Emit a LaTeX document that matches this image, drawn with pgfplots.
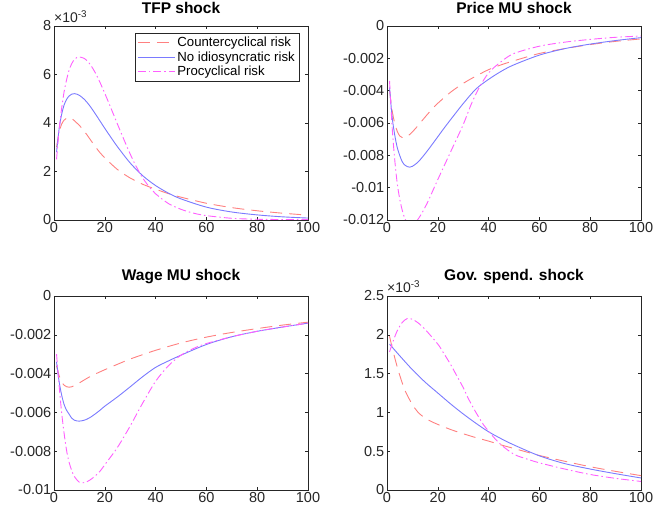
\documentclass[border=0pt]{standalone}
\usepackage{fontspec}
\setmainfont{Liberation Sans}
\usepackage{pgfplots}
\pgfplotsset{compat=1.18}

\definecolor{cred}{RGB}{255,128,128}
\definecolor{cblue}{RGB}{122,122,255}
\definecolor{cmag}{RGB}{255,95,255}
\definecolor{axgray}{RGB}{38,38,38}

\pgfplotsset{
  irf/.style={
    scale only axis, width=254pt, height=194pt, anchor=south west,
    xmin=0, xmax=100, xtick={0,20,...,100},
    tick align=inside, major tick length=3pt,
    axis line style={axgray, line width=0.5pt},
    every tick/.style={axgray, line width=0.5pt},
    ticklabel style={font=\fontsize{14.5}{16}\selectfont, text=axgray},
    xticklabel style={inner sep=2pt},
    yticklabel style={inner sep=2.5pt},
    /pgf/number format/assume math mode=true,
    scaled y ticks=false, scaled x ticks=false,
    title style={font=\fontsize{15.5}{17}\selectfont\bfseries, at={(0.5,1)}, anchor=south, inner sep=0pt, yshift=6pt},
    clip mode=individual,
    legend cell align=left,
  },
  cr/.style={cred, line width=0.9pt, dash pattern=on 12pt off 7pt, smooth},
  cb/.style={cblue, line width=0.9pt, smooth},
  cm/.style={cmag, line width=0.9pt, dash pattern=on 8pt off 3pt on 1.5pt off 3pt, smooth},
}

\begin{document}
\begin{tikzpicture}
% ---------------- TFP shock ----------------
\begin{axis}[irf, at={(54pt,290pt)}, title={TFP shock},
  ymin=0, ymax=8, ytick={0,2,4,6,8},
  legend style={at={(1,1)}, anchor=north east, xshift=-9pt, yshift=-7pt,
    font=\fontsize{13.2}{15}\selectfont, draw=axgray, line width=0.5pt,
    inner sep=2pt, row sep=-0.5pt},
  legend image code/.code={\draw[#1] (0pt,0pt) -- (37pt,0pt);},
]
\addplot[cr] coordinates {(1,3.0) (2,3.6) (3,3.95) (4,4.12) (5,4.2) (6,4.22) (7,4.18) (8,4.1) (9,4.0) (10,3.9) (12,3.65) (14,3.36) (16,3.06) (18,2.79) (20,2.56) (22,2.36) (25,2.08) (28,1.86) (30,1.73) (35,1.47) (40,1.27) (45,1.09) (50,0.94) (60,0.69) (70,0.51) (80,0.38) (90,0.28) (100,0.2)};
\addlegendentry{Countercyclical risk}
\addplot[cb] coordinates {(1,2.8) (2,3.75) (3,4.35) (4,4.75) (5,4.98) (6,5.12) (7,5.19) (8,5.21) (9,5.19) (10,5.14) (12,4.97) (14,4.72) (16,4.42) (18,4.1) (20,3.78) (22,3.47) (25,3.02) (30,2.35) (35,1.82) (40,1.42) (45,1.11) (50,0.87) (60,0.53) (70,0.33) (80,0.21) (90,0.13) (100,0.08)};
\addlegendentry{No idiosyncratic risk}
\addplot[cm] coordinates {(1,2.5) (2,3.7) (3,4.6) (4,5.3) (5,5.8) (6,6.2) (7,6.45) (8,6.62) (9,6.7) (10,6.72) (12,6.66) (14,6.45) (16,6.12) (18,5.7) (20,5.22) (22,4.72) (25,3.95) (28,3.2) (30,2.72) (32,2.28) (35,1.72) (38,1.3) (40,1.08) (45,0.68) (50,0.44) (55,0.28) (60,0.18) (70,0.07) (80,0.03) (90,0.02) (100,0.015)};
\addlegendentry{Procyclical risk}
\node[anchor=south west, inner sep=0pt, yshift=3pt, font=\fontsize{14}{15}\selectfont, text=axgray] at (rel axis cs:0,1) {×10\textsuperscript{-3}};
\end{axis}

% ---------------- Price MU shock ----------------
\begin{axis}[irf, at={(387pt,290pt)}, title={Price MU shock},
  ymin=-0.012, ymax=0, ytick={-0.012,-0.01,-0.008,-0.006,-0.004,-0.002,0},
  yticklabel style={/pgf/number format/fixed, /pgf/number format/precision=3},
]
\addplot[cr] coordinates {(1,-0.0040) (2,-0.0052) (3,-0.0060) (4,-0.0065) (5,-0.0068) (6,-0.0069) (7,-0.0069) (8,-0.00683) (9,-0.0067) (10,-0.00655) (12,-0.0062) (14,-0.00582) (16,-0.00545) (18,-0.0051) (20,-0.00478) (25,-0.0041) (30,-0.00355) (35,-0.0031) (40,-0.0027) (45,-0.0024) (50,-0.00215) (60,-0.0017) (70,-0.0014) (80,-0.00115) (90,-0.00095) (100,-0.0008)};
\addplot[cb] coordinates {(1,-0.0038) (2,-0.0056) (3,-0.0067) (4,-0.0075) (5,-0.0080) (6,-0.0084) (7,-0.0086) (8,-0.0087) (9,-0.00873) (10,-0.00868) (12,-0.00845) (14,-0.0081) (16,-0.0077) (18,-0.00728) (20,-0.00685) (22,-0.00642) (25,-0.0058) (30,-0.0048) (35,-0.0039) (40,-0.0033) (45,-0.0028) (50,-0.0024) (60,-0.0018) (70,-0.0014) (80,-0.00112) (90,-0.0009) (100,-0.00072)};
\addplot[cm] coordinates {(1,-0.0034) (2,-0.0062) (3,-0.0082) (4,-0.0097) (5,-0.0107) (6,-0.0114) (7,-0.0119) (8,-0.0122) (9,-0.0123) (10,-0.0123) (12,-0.0120) (14,-0.0115) (16,-0.0109) (18,-0.0102) (20,-0.0095) (25,-0.0078) (30,-0.0061) (33,-0.0049) (36,-0.0039) (40,-0.0029) (45,-0.0022) (50,-0.0017) (60,-0.00125) (70,-0.001) (80,-0.00083) (90,-0.0007) (100,-0.00062)};
\end{axis}

% ---------------- Wage MU shock ----------------
\begin{axis}[irf, at={(54pt,20pt)}, title={Wage MU shock},
  ymin=-0.01, ymax=0, ytick={-0.01,-0.008,-0.006,-0.004,-0.002,0},
  yticklabel style={/pgf/number format/fixed, /pgf/number format/precision=3},
]
\addplot[cr] coordinates {(1,-0.0036) (2,-0.0041) (3,-0.00442) (4,-0.0046) (5,-0.00468) (6,-0.0047) (7,-0.00468) (8,-0.00462) (10,-0.00448) (12,-0.00432) (15,-0.0041) (20,-0.0038) (25,-0.00352) (30,-0.00325) (35,-0.00302) (40,-0.0028) (50,-0.00242) (60,-0.00212) (70,-0.00188) (80,-0.00168) (90,-0.0015) (100,-0.00135)};
\addplot[cb] coordinates {(1,-0.0034) (2,-0.0044) (3,-0.0051) (4,-0.0056) (5,-0.0059) (6,-0.0061) (7,-0.0063) (8,-0.0064) (9,-0.00644) (10,-0.00645) (12,-0.0064) (14,-0.00628) (16,-0.0061) (18,-0.0059) (20,-0.00568) (25,-0.0052) (30,-0.00468) (35,-0.00415) (40,-0.00368) (45,-0.00335) (50,-0.00305) (60,-0.0025) (70,-0.0021) (80,-0.00182) (90,-0.0016) (100,-0.0014)};
\addplot[cm] coordinates {(1,-0.0030) (2,-0.0046) (3,-0.0060) (4,-0.0071) (5,-0.0080) (6,-0.0086) (7,-0.0090) (8,-0.0093) (10,-0.0096) (12,-0.00962) (14,-0.0095) (16,-0.0093) (18,-0.00905) (20,-0.0087) (25,-0.0078) (30,-0.0067) (35,-0.0055) (40,-0.0044) (45,-0.0036) (50,-0.00305) (55,-0.0027) (60,-0.00245) (70,-0.0021) (80,-0.00182) (90,-0.0016) (100,-0.0014)};
\end{axis}

% ---------------- Gov. spend. shock ----------------
\begin{axis}[irf, at={(387pt,20pt)}, title={Gov. spend. shock},
  ymin=0, ymax=2.5, ytick={0,0.5,1,1.5,2,2.5},
]
\addplot[cr] coordinates {(1,1.98) (2,1.84) (3,1.71) (4,1.59) (5,1.48) (6,1.38) (7,1.29) (8,1.22) (10,1.10) (12,1.01) (14,0.95) (17,0.89) (20,0.845) (25,0.78) (30,0.725) (35,0.675) (40,0.63) (45,0.58) (50,0.535) (60,0.445) (70,0.37) (80,0.3) (90,0.24) (100,0.185)};
\addplot[cb] coordinates {(1,1.88) (5,1.73) (10,1.55) (15,1.39) (20,1.25) (25,1.11) (30,0.98) (35,0.86) (40,0.75) (45,0.66) (50,0.58) (60,0.44) (70,0.34) (80,0.27) (90,0.21) (100,0.155)};
\addplot[cm] coordinates {(1,1.78) (2,1.88) (3,1.97) (4,2.05) (5,2.11) (6,2.16) (7,2.19) (8,2.21) (9,2.21) (10,2.2) (12,2.16) (15,2.07) (20,1.88) (22,1.78) (25,1.62) (27,1.50) (30,1.32) (32,1.18) (35,1.0) (38,0.84) (40,0.76) (42,0.68) (45,0.58) (50,0.46) (55,0.40) (60,0.35) (70,0.27) (80,0.2) (90,0.15) (100,0.11)};
\node[anchor=south west, inner sep=0pt, yshift=3pt, font=\fontsize{14}{15}\selectfont, text=axgray] at (rel axis cs:0,1) {×10\textsuperscript{-3}};
\end{axis}

\pgfresetboundingbox
\path[use as bounding box] (0,0) rectangle (654pt,510pt);
\end{tikzpicture}
\end{document}
